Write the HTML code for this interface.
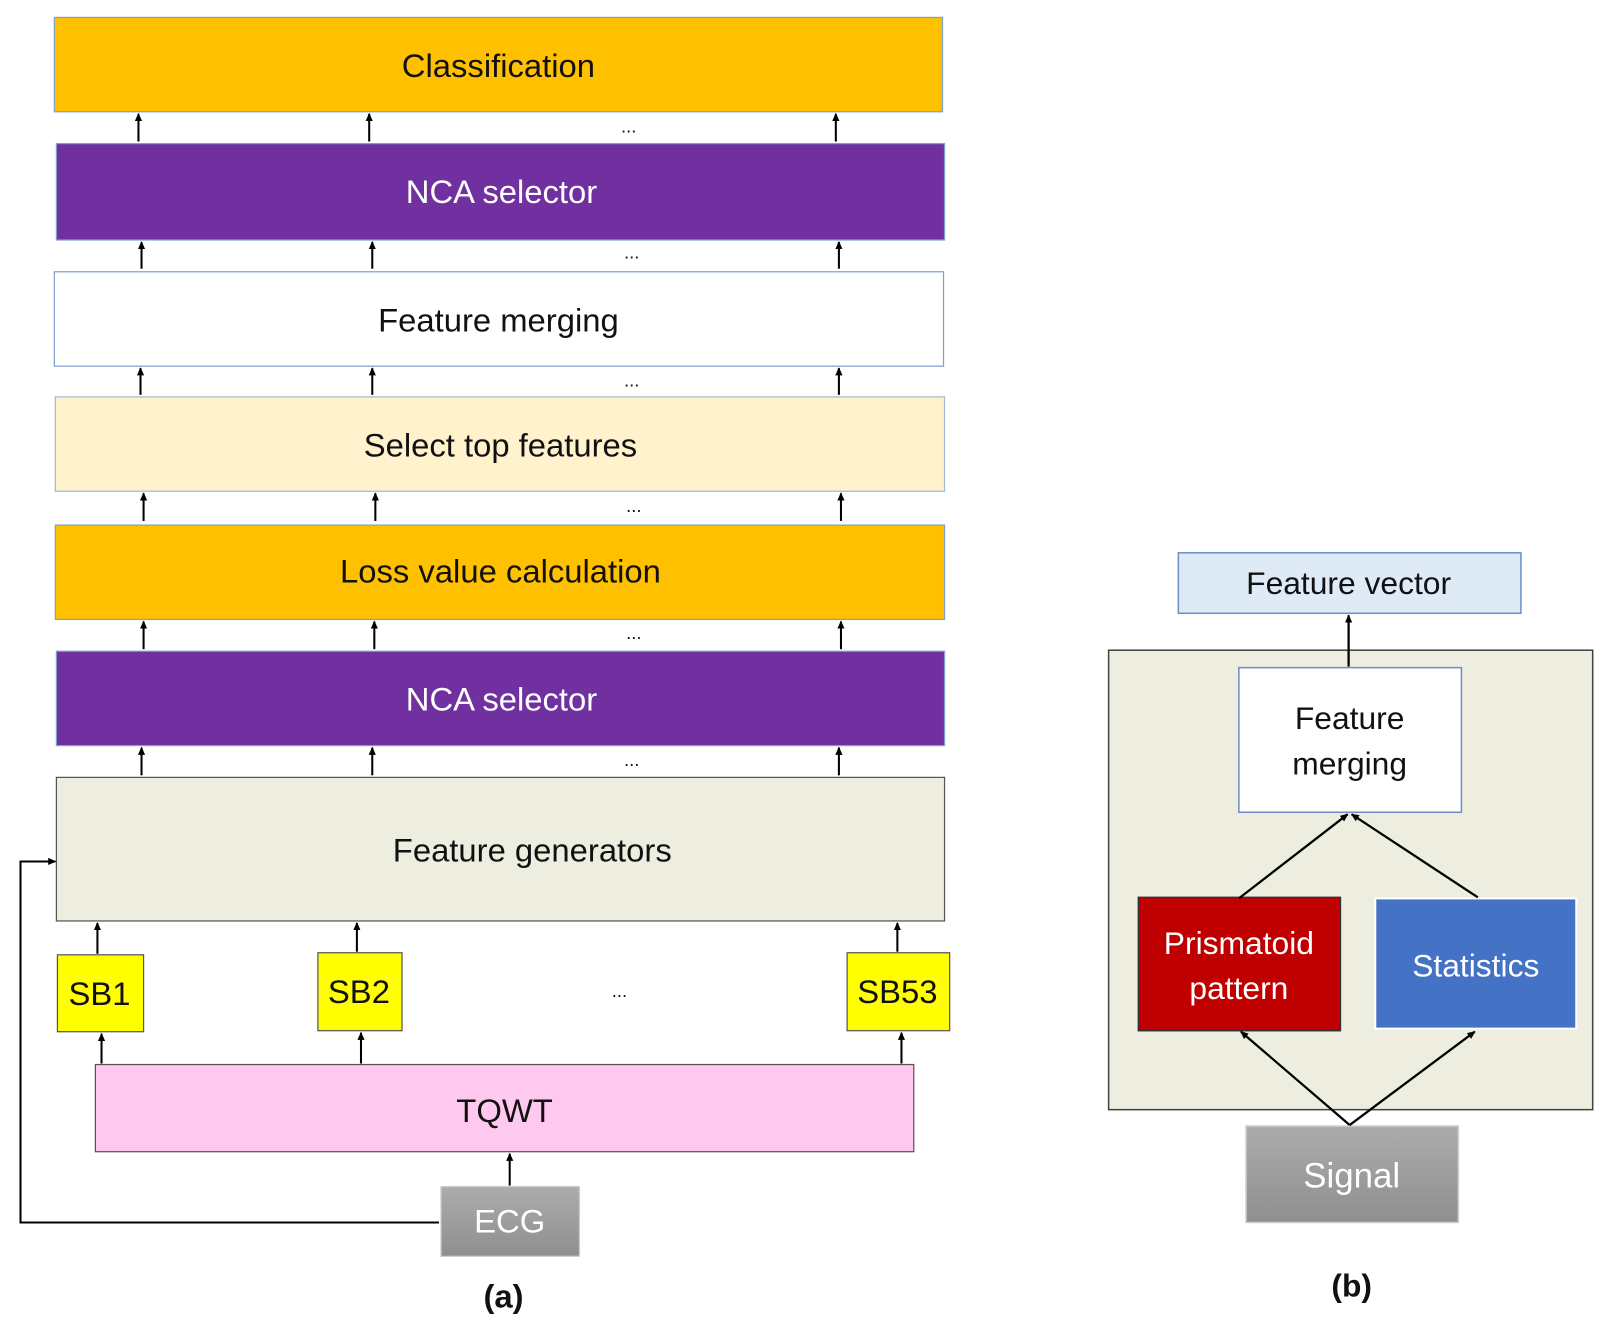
<!DOCTYPE html>
<html><head><meta charset="utf-8"><style>html,body{margin:0;padding:0;background:#fff}svg{display:block}</style></head>
<body>
<svg width="1605" height="1324" viewBox="0 0 1565 1291" preserveAspectRatio="none" xmlns="http://www.w3.org/2000/svg" font-family="'Liberation Sans', sans-serif">
<defs>
<marker id="a" markerWidth="8" markerHeight="8" refX="7" refY="4" orient="auto" markerUnits="userSpaceOnUse"><path d="M0,0.5 L8,4 L0,7.5 z" fill="#000"/></marker>
<linearGradient id="g" x1="0" y1="0" x2="0" y2="1"><stop offset="0" stop-color="#acacac"/><stop offset="1" stop-color="#8f8f8f"/></linearGradient>
</defs>
<g stroke-width="1.2">
<rect x="53" y="17" width="866" height="92" fill="#FFC000" stroke="#7F9FD0"/>
<rect x="55" y="140" width="866" height="94" fill="#7030A0" stroke="#7F9FD0"/>
<rect x="53" y="265" width="867" height="92" fill="#fff" stroke="#7F9FD0"/>
<rect x="54" y="387" width="867" height="92" fill="#FFF2CC" stroke="#A6B8D8"/>
<rect x="54" y="512" width="867" height="92" fill="#FFC000" stroke="#7F9FD0"/>
<rect x="55" y="635" width="866" height="92" fill="#7030A0" stroke="#7F9FD0"/>
<rect x="55" y="758" width="866" height="140" fill="#EEEEE0" stroke="#555"/>
<rect x="56" y="931" width="84" height="75" fill="#FFFF00" stroke="#555"/>
<rect x="310" y="929" width="82" height="76" fill="#FFFF00" stroke="#555"/>
<rect x="826" y="929" width="100" height="76" fill="#FFFF00" stroke="#555"/>
<rect x="93" y="1038" width="798" height="85" fill="#FFC8EE" stroke="#555"/>
<rect x="430" y="1157" width="135" height="68" fill="url(#g)" stroke="#ccc"/>
</g>
<g stroke="#000" stroke-width="2" marker-end="url(#a)">
<line x1="135" y1="138" x2="135" y2="111"/><line x1="360" y1="138" x2="360" y2="111"/><line x1="815" y1="138" x2="815" y2="111"/>
<line x1="138" y1="262" x2="138" y2="236"/><line x1="363" y1="262" x2="363" y2="236"/><line x1="818" y1="262" x2="818" y2="236"/>
<line x1="137" y1="385" x2="137" y2="359"/><line x1="363" y1="385" x2="363" y2="359"/><line x1="818" y1="385" x2="818" y2="359"/>
<line x1="140" y1="508" x2="140" y2="481"/><line x1="366" y1="508" x2="366" y2="481"/><line x1="820" y1="508" x2="820" y2="481"/>
<line x1="140" y1="633" x2="140" y2="606"/><line x1="365" y1="633" x2="365" y2="606"/><line x1="820" y1="633" x2="820" y2="606"/>
<line x1="138" y1="756" x2="138" y2="729"/><line x1="363" y1="756" x2="363" y2="729"/><line x1="818" y1="756" x2="818" y2="729"/>
<line x1="95" y1="930" x2="95" y2="900"/><line x1="348" y1="928" x2="348" y2="900"/><line x1="875" y1="928" x2="875" y2="900"/>
<line x1="99" y1="1037" x2="99" y2="1008"/><line x1="352" y1="1037" x2="352" y2="1007"/><line x1="879" y1="1037" x2="879" y2="1007"/>
<line x1="497" y1="1156" x2="497" y2="1125"/>
<polyline points="428,1192 20,1192 20,840 54,840" fill="none"/>
</g>
<g font-size="32" text-anchor="middle" fill="#111">
<text x="486" y="75">Classification</text>
<text x="489" y="198" fill="#fff">NCA selector</text>
<text x="486" y="323">Feature merging</text>
<text x="488" y="445">Select top features</text>
<text x="488" y="568">Loss value calculation</text>
<text x="489" y="693" fill="#fff">NCA selector</text>
<text x="519" y="840">Feature generators</text>
<text x="97" y="980">SB1</text>
<text x="350" y="978">SB2</text>
<text x="875" y="978">SB53</text>
<text x="492" y="1094">TQWT</text>
<text x="497" y="1202" fill="#fff">ECG</text>
<text x="491" y="1275" font-weight="bold">(a)</text>
</g>
<g font-size="18" text-anchor="middle" fill="#111">
<text x="613" y="129">...</text><text x="616" y="252">...</text><text x="616" y="377">...</text><text x="618" y="499">...</text><text x="618" y="623">...</text><text x="616" y="747">...</text><text x="604" y="972">...</text>
</g>
<g stroke-width="1.5">
<rect x="1149" y="539" width="334" height="59" fill="#DEEBF7" stroke="#6F8FC8"/>
<rect x="1081" y="634" width="472" height="448" fill="#EEEEE0" stroke="#444"/>
<rect x="1208" y="651" width="217" height="141" fill="#fff" stroke="#6F8FC8"/>
<rect x="1110" y="875" width="197" height="130" fill="#C00000" stroke="#333"/>
<rect x="1341" y="876" width="196" height="127" fill="#4472C4" stroke="#fff" stroke-width="2"/>
<rect x="1215" y="1098" width="207" height="94" fill="url(#g)" stroke="#ccc"/>
</g>
<g stroke="#000" stroke-width="2.2" marker-end="url(#a)" fill="none">
<line x1="1315" y1="650" x2="1315" y2="600"/>
<line x1="1208" y1="876" x2="1314" y2="794"/>
<line x1="1441" y1="875" x2="1318" y2="794"/>
<line x1="1316" y1="1097" x2="1210" y2="1006"/>
<line x1="1316" y1="1097" x2="1438" y2="1006"/>
</g>
<g font-size="31" text-anchor="middle" fill="#111">
<text x="1315" y="579">Feature vector</text>
<text x="1316" y="711">Feature</text>
<text x="1316" y="755">merging</text>
<text x="1208" y="930" fill="#fff">Prismatoid</text>
<text x="1208" y="974" fill="#fff">pattern</text>
<text x="1439" y="952" fill="#fff">Statistics</text>
<text x="1318" y="1158" fill="#fff" font-size="34">Signal</text>
<text x="1318" y="1264" font-weight="bold">(b)</text>
</g>
</svg>
</body></html>
